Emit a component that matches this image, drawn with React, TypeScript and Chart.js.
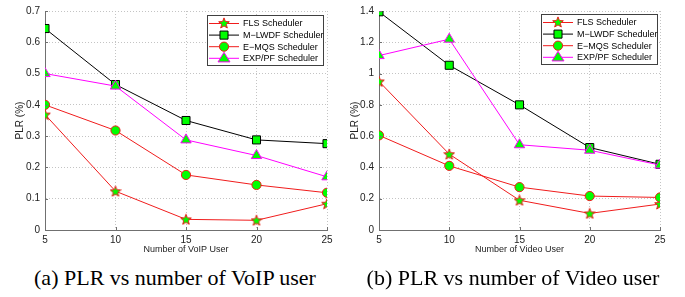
import React, { useEffect, useRef } from 'react';
import { Chart, registerables } from 'chart.js';

Chart.register(...registerables);

// ---------- data ----------
const xUsers = [5, 10, 15, 20, 25];
const xTicks = [5, 10, 15, 20, 25];
const seriesNames = ['FLS Scheduler', 'M\u2212LWDF Scheduler', 'E\u2212MQS Scheduler', 'EXP/PF Scheduler'];

const voipFLS = [0.369, 0.124, 0.034, 0.031, 0.084];
const voipMLWDF = [0.644, 0.465, 0.35, 0.288, 0.276];
const voipEMQS = [0.4, 0.318, 0.176, 0.144, 0.119];
const voipEXPPF = [0.5, 0.46, 0.288, 0.238, 0.17];
const voipYTicks = [0, 0.1, 0.2, 0.3, 0.4, 0.5, 0.6, 0.7];

const videoFLS = [0.95, 0.485, 0.19, 0.106, 0.166];
const videoMLWDF = [1.395, 1.053, 0.8, 0.527, 0.42];
const videoEMQS = [0.605, 0.41, 0.274, 0.217, 0.208];
const videoEXPPF = [1.115, 1.22, 0.545, 0.51, 0.415];
const videoYTicks = [0, 0.2, 0.4, 0.6, 0.8, 1, 1.2, 1.4];

const xTitleVoip = 'Number of VoIP User';
const xTitleVideo = 'Number of Video User';
const yTitle = 'PLR (%)';
const captionVoip = '(a) PLR vs number of VoIP user';
const captionVideo = '(b) PLR vs number of Video user';

// ---------- styles ----------
const RED = '#f01c1c';
const GREEN = '#00ff00';
const MAGENTA = '#ff00ff';
const BLACK = '#000000';
const SANS = '"Liberation Sans", Arial, Helvetica, sans-serif';

function starPath(ctx: CanvasRenderingContext2D, cx: number, cy: number, ro: number, ri: number) {
  ctx.beginPath();
  for (let i = 0; i < 10; i++) {
    const r = i % 2 === 0 ? ro : ri;
    const a = -Math.PI / 2 + (i * Math.PI) / 5;
    const x = cx + r * Math.cos(a);
    const y = cy + r * Math.sin(a);
    if (i === 0) ctx.moveTo(x, y);
    else ctx.lineTo(x, y);
  }
  ctx.closePath();
}

function makeStar(): HTMLCanvasElement {
  const c = document.createElement('canvas');
  c.width = 12;
  c.height = 12;
  const ctx = c.getContext('2d')!;
  starPath(ctx, 6, 6.5, 5.6, 2.4);
  ctx.fillStyle = GREEN;
  ctx.fill();
  ctx.strokeStyle = RED;
  ctx.lineWidth = 1;
  ctx.stroke();
  return c;
}

type Series = { name: string; data: number[]; color: string; marker: string; radius: number };

function drawMarker(ctx: CanvasRenderingContext2D, s: Series, x: number, y: number) {
  ctx.save();
  ctx.fillStyle = GREEN;
  ctx.strokeStyle = s.color;
  ctx.lineWidth = 1;
  ctx.beginPath();
  if (s.marker === 'star') {
    starPath(ctx, x, y, 5.6, 2.4);
  } else if (s.marker === 'rect') {
    const h = s.radius * Math.SQRT1_2;
    ctx.rect(x - h, y - h, 2 * h, 2 * h);
  } else if (s.marker === 'circle') {
    ctx.arc(x, y, s.radius, 0, Math.PI * 2);
  } else {
    const r = s.radius;
    const hw = (r * Math.sqrt(3)) / 2;
    ctx.moveTo(x, y - r);
    ctx.lineTo(x + hw * 1.15, y + r * 0.6);
    ctx.lineTo(x - hw * 1.15, y + r * 0.6);
    ctx.closePath();
  }
  ctx.fill();
  ctx.stroke();
  ctx.restore();
}

type PanelProps = {
  series: Series[];
  yTicks: number[];
  yMax: number;
  xTitle: string;
  left: number;
  axisWidth: number;
  padRight: number;
  padTop: number;
  legendRightOff: number;
  legendTopOff: number;
};

const W = 340;
const H = 262;

function Panel(p: PanelProps) {
  const ref = useRef<HTMLCanvasElement | null>(null);
  useEffect(() => {
    const canvas = ref.current!;
    const star = makeStar();
    const datasets = p.series.map((s, i) => ({
      label: s.name,
      data: xUsers.map((x, j) => ({ x, y: s.data[j] })),
      borderColor: s.color,
      backgroundColor: GREEN,
      borderWidth: 1,
      pointStyle: s.marker === 'star' ? (star as any) : s.marker,
      pointRadius: s.radius,
      pointHoverRadius: s.radius,
      pointBorderColor: s.color,
      pointBackgroundColor: GREEN,
      pointBorderWidth: 1,
      tension: 0,
      order: p.series.length - i,
    }));

    const overlay = {
      id: 'overlay',
      afterDatasetsDraw(chart: any) {
        const ctx = chart.ctx as CanvasRenderingContext2D;
        const xs = chart.scales.x;
        const ys = chart.scales.y;
        const area = chart.chartArea;
        // inward tick marks
        ctx.save();
        ctx.strokeStyle = '#707070';
        ctx.lineWidth = 1;
        ctx.beginPath();
        xTicks.forEach((v) => {
          const px = Math.round(xs.getPixelForValue(v)) + 0.5;
          ctx.moveTo(px, area.bottom);
          ctx.lineTo(px, area.bottom - 3);
        });
        p.yTicks.forEach((v) => {
          const py = Math.round(ys.getPixelForValue(v)) + 0.5;
          ctx.moveTo(area.left, py);
          ctx.lineTo(area.left + 3, py);
        });
        ctx.stroke();
        ctx.restore();

        // legend box
        const bw = 116;
        const bh = 50;
        const bx = area.right - p.legendRightOff - bw;
        const by = area.top + p.legendTopOff;
        ctx.save();
        ctx.fillStyle = '#ffffff';
        ctx.fillRect(bx, by, bw, bh);
        ctx.strokeStyle = '#404040';
        ctx.lineWidth = 1;
        ctx.strokeRect(Math.round(bx) + 0.5, Math.round(by) + 0.5, bw, bh);
        ctx.font = `9px ${SANS}`;
        ctx.textBaseline = 'middle';
        ctx.textAlign = 'left';
        p.series.forEach((s, i) => {
          const ry = by + 8.5 + i * 11.6;
          ctx.strokeStyle = s.color;
          ctx.beginPath();
          ctx.moveTo(bx + 2, ry);
          ctx.lineTo(bx + 32, ry);
          ctx.stroke();
          drawMarker(ctx, s, bx + 17, ry);
          ctx.fillStyle = '#000';
          ctx.fillText(s.name, bx + 36, ry + 0.5);
        });
        ctx.restore();
      },
    };

    const chart = new Chart(canvas, {
      type: 'line',
      data: { datasets: datasets as any },
      options: {
        animation: false,
        responsive: false,
        maintainAspectRatio: false,
        layout: { padding: { left: 0, right: p.padRight, top: p.padTop, bottom: 0 } },
        plugins: { legend: { display: false }, tooltip: { enabled: false } },
        scales: {
          x: {
            type: 'linear',
            min: 5,
            max: 25,
            afterBuildTicks: (scale: any) => {
              scale.ticks = xTicks.map((v) => ({ value: v }));
            },
            afterFit: (scale: any) => {
              scale.height = H - 230;
            },
            grid: { color: '#c4c4c4', drawTicks: false, lineWidth: 1 },
            border: { display: true, color: '#707070', width: 1, dash: [1, 2] },
            ticks: {
              padding: 4,
              color: '#222',
              font: { family: SANS, size: 10 },
              maxRotation: 0,
              callback: (v: any) => String(v),
            },
            title: {
              display: true,
              text: p.xTitle,
              color: '#222',
              font: { family: SANS, size: 9 },
              padding: { top: 0, bottom: 7 },
            },
          },
          y: {
            type: 'linear',
            min: 0,
            max: p.yMax,
            afterBuildTicks: (scale: any) => {
              scale.ticks = p.yTicks.map((v) => ({ value: v }));
            },
            afterFit: (scale: any) => {
              scale.width = p.axisWidth;
            },
            grid: { color: '#c4c4c4', drawTicks: false, lineWidth: 1 },
            border: { display: true, color: '#707070', width: 1, dash: [1, 2] },
            ticks: {
              padding: 5,
              color: '#222',
              font: { family: SANS, size: 10 },
              callback: (v: any) => String(Number(Number(v).toFixed(2))),
            },
            title: {
              display: true,
              text: yTitle,
              color: '#222',
              font: { family: SANS, size: 10 },
              padding: { top: 14, bottom: 0 },
            },
          },
        },
      },
      plugins: [overlay],
    });
    return () => chart.destroy();
  }, []);
  return (
    <canvas
      ref={ref}
      width={W}
      height={H}
      style={{ position: 'absolute', left: p.left, top: 0, width: W, height: H }}
    />
  );
}

export default function App() {
  const voipSeries: Series[] = [
    { name: seriesNames[0], data: voipFLS, color: RED, marker: 'star', radius: 5 },
    { name: seriesNames[1], data: voipMLWDF, color: BLACK, marker: 'rect', radius: 5.7 },
    { name: seriesNames[2], data: voipEMQS, color: RED, marker: 'circle', radius: 4.6 },
    { name: seriesNames[3], data: voipEXPPF, color: MAGENTA, marker: 'triangle', radius: 6 },
  ];
  const videoSeries: Series[] = [
    { name: seriesNames[0], data: videoFLS, color: RED, marker: 'star', radius: 5 },
    { name: seriesNames[1], data: videoMLWDF, color: BLACK, marker: 'rect', radius: 5.7 },
    { name: seriesNames[2], data: videoEMQS, color: RED, marker: 'circle', radius: 4.6 },
    { name: seriesNames[3], data: videoEXPPF, color: MAGENTA, marker: 'triangle', radius: 6 },
  ];
  const capStyle: React.CSSProperties = {
    position: 'absolute',
    top: 265,
    fontFamily: '"Liberation Serif", "Times New Roman", serif',
    fontSize: 22,
    lineHeight: '26px',
    color: '#000',
    whiteSpace: 'nowrap',
    transform: 'translateX(-50%)',
  };
  return (
    <div style={{ position: 'absolute', left: 0, top: 0, width: 685, height: 297, background: '#fff', overflow: 'hidden' }}>
      <Panel
        series={voipSeries}
        yTicks={voipYTicks}
        yMax={0.7}
        xTitle={xTitleVoip}
        left={0}
        axisWidth={45}
        padRight={13}
        padTop={7}
        legendRightOff={4}
        legendTopOff={4}
      />
      <Panel
        series={videoSeries}
        yTicks={videoYTicks}
        yMax={1.4}
        xTitle={xTitleVideo}
        left={335}
        axisWidth={44}
        padRight={15}
        padTop={9}
        legendRightOff={3}
        legendTopOff={3}
      />
      <div style={{ ...capStyle, left: 175 }}>{captionVoip}</div>
      <div style={{ ...capStyle, left: 513 }}>{captionVideo}</div>
    </div>
  );
}
